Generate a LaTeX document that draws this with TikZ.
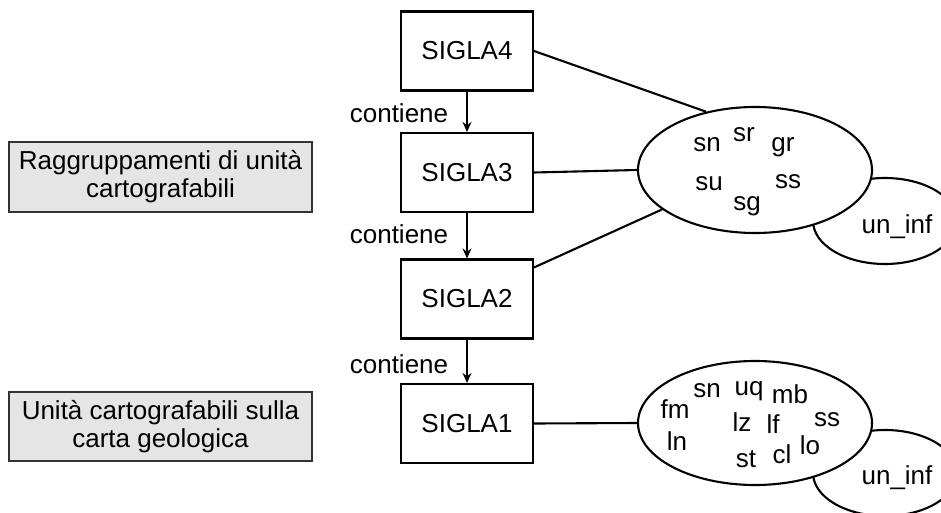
\documentclass[tikz,border=0pt]{standalone}
\usepackage{fontspec}
\setmainfont{Liberation Sans}
\usetikzlibrary{shapes.geometric,arrows.meta}
\begin{document}
\begin{tikzpicture}[x=1pt,y=-1pt,
  every node/.style={font=\fontsize{26}{28}\selectfont},
  ln/.style={line width=2.1pt},
  sigbox/.style={draw,line width=2.1pt,minimum width=132pt,minimum height=79pt,inner sep=0pt},
  grpbox/.style={draw=black!80,fill=black!10,line width=1.3pt,minimum width=303pt,minimum height=70pt,align=center,inner sep=0pt},
  ell/.style={draw,ellipse,fill=white,line width=2.1pt,inner sep=0pt},
  word/.style={anchor=base,inner sep=0pt},
  arr/.style={line width=1.6pt,-{Stealth[length=10pt,width=9pt]}}]
\useasboundingbox (0,0) rectangle (941,513);
\clip (0,0) rectangle (941,513);
% group boxes
\node[grpbox] (g1) at (160.5,177) {Raggruppamenti di unità\\cartografabili};
\node[grpbox,minimum height=69pt] (g2) at (160.5,426.5) {Unità cartografabili sulla\\carta geologica};
% sigla boxes
\node[sigbox] (s4) at (467,51) {SIGLA4};
\node[sigbox] (s3) at (467,172.5) {SIGLA3};
\node[sigbox] (s2) at (467,299) {SIGLA2};
\node[sigbox] (s1) at (467,423.5) {SIGLA1};
\draw[arr] (s4) -- (s3);
\draw[arr] (s3) -- (s2);
\draw[arr] (s2) -- (s1);
\node[word] (c1) at (399,123) {contiene};
\node[word] (c2) at (399,243) {contiene};
\node[word] (c3) at (399,373) {contiene};
% ellipses
\node[ell,minimum width=144pt,minimum height=86pt] (u1) at (885,221) {};
\node[ell,minimum width=144pt,minimum height=86pt] (u2) at (885,473) {};
\node[ell,minimum width=234pt,minimum height=126pt] (e1) at (755,170) {};
\node[ell,minimum width=234pt,minimum height=124pt] (e2) at (755,423) {};
\draw[ln] (s4.east) -- (e1.130);
\draw[ln] (s3.east) -- (e1.180);
\draw[ln] ([yshift=-9pt]s2.north east) -- (e1.203);
\draw[ln] (s1.east) -- (e2.180);
\node[word] (ui1) at (897,233) {un\_inf};
\node[word] (ui2) at (897,484) {un\_inf};
% words ellipse 1
\node[word] (a1) at (707,152) {sn};
\node[word] (a2) at (744,142) {sr};
\node[word] (a3) at (783,152) {gr};
\node[word] (a4) at (709,190) {su};
\node[word] (a5) at (788,189) {ss};
\node[word] (a6) at (747,210) {sg};
% words ellipse 2
\node[word] (b1) at (675,418) {fm};
\node[word] (b2) at (707,397) {sn};
\node[word] (b3) at (749,395) {uq};
\node[word] (b4) at (790,403) {mb};
\node[word] (b5) at (677,450) {ln};
\node[word] (b6) at (742,431) {lz};
\node[word] (b7) at (773,433) {lf};
\node[word] (b8) at (827,426) {ss};
\node[word] (b9) at (810,454) {lo};
\node[word] (b10) at (746,467) {st};
\node[word] (b11) at (782,463) {cl};
\end{tikzpicture}
\end{document}
